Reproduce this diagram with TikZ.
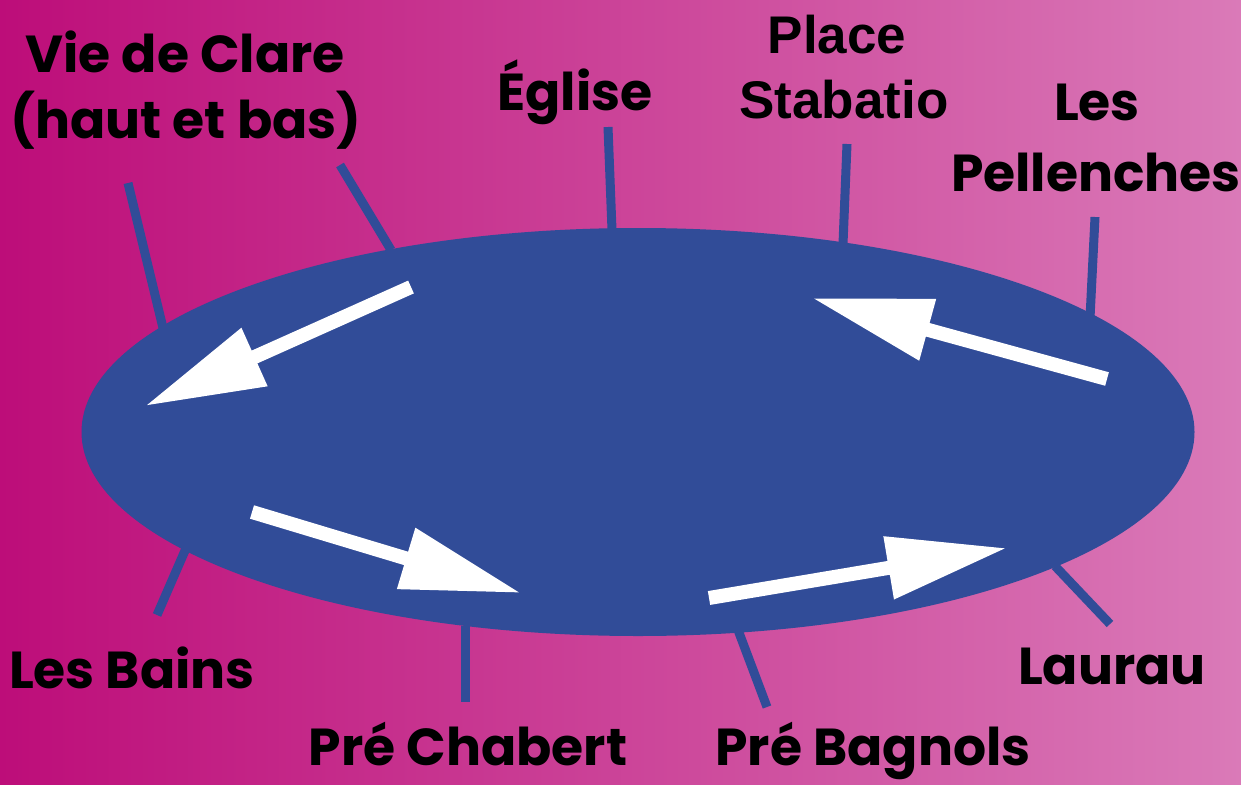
\documentclass[tikz,border=0pt]{standalone}
\usepackage{fontspec}
\setmainfont{Poppins}
\newfontfamily\arialf{Liberation Sans}
\usetikzlibrary{arrows.meta,shapes.geometric}
\definecolor{bgL}{RGB}{189,13,121}
\definecolor{bgM}{RGB}{198,38,138}
\definecolor{bgR}{RGB}{218,122,184}
\definecolor{loopblue}{RGB}{49,76,152}
\tikzset{
  lbl/.style={font=\fontsize{52}{60}\selectfont\bfseries, text=black, inner sep=0pt, anchor=base},
  albl/.style={font=\arialf\fontsize{53}{60}\selectfont\bfseries, text=black, inner sep=0pt, anchor=base},
  tick/.style={draw=loopblue, line width=9pt},
  flow/.style={draw=white, line width=14pt, -{Triangle[length=120pt,width=60pt]}},
}
\begin{document}
\begin{tikzpicture}[x=1pt,y=-1pt]
\path[use as bounding box] (0,0) rectangle (1241,784);
\shade[left color=bgL, middle color=bgM, right color=bgR] (0,0) rectangle (1241,784);
\node[ellipse, fill=loopblue, minimum width=1113pt, minimum height=408pt, inner sep=0pt] (loop) at (638,432) {};

% labels
\node[lbl] (vie1) at (185,72) {Vie de Clare};
\node[lbl] (vie2) at (186,138) {(haut et bas)};
\node[lbl] (eglise) at (575,110) {Église};
\node[albl] (place1) at (837,53) {Place};
\node[albl] (place2) at (844,118) {Stabatio};
\node[lbl] (pell1) at (1097,120) {Les};
\node[lbl] (pell2) at (1096,191) {Pellenches};
\node[lbl] (bains) at (132,688) {Les Bains};
\node[lbl] (chabert) at (468,765) {Pré Chabert};
\node[lbl] (bagnols) at (873,765) {Pré Bagnols};
\node[lbl] (laurau) at (1112,684) {Laurau};

% tick ends
\coordinate (v1a) at (128,183); \coordinate (v1b) at (163,328);
\coordinate (v2a) at (340,165); \coordinate (v2b) at (391,250);
\coordinate (ega) at (608,127); \coordinate (egb) at (612,230);
\coordinate (pla) at (847,144); \coordinate (plb) at (843,244);
\coordinate (pea) at (1095,217); \coordinate (peb) at (1090,318);
\coordinate (baa) at (187,546); \coordinate (bab) at (157,615);
\coordinate (cha) at (465,626); \coordinate (chb) at (465,702);
\coordinate (bga) at (738,630); \coordinate (bgb) at (767,707);
\coordinate (laa) at (1055,566); \coordinate (lab) at (1110,624);

\draw[tick] (v1a) -- (v1b);
\draw[tick] (v2a) -- (v2b);
\draw[tick] (ega) -- (egb);
\draw[tick] (pla) -- (plb);
\draw[tick] (pea) -- (peb);
\draw[tick] (baa) -- (bab);
\draw[tick] (cha) -- (chb);
\draw[tick] (bga) -- (bgb);
\draw[tick] (laa) -- (lab);

% arrows
\coordinate (a1s) at (411,287); \coordinate (a1e) at (145,406);
\coordinate (a2s) at (1107,379); \coordinate (a2e) at (812,298);
\coordinate (a3s) at (252,512); \coordinate (a3e) at (521,593);
\coordinate (a4s) at (709,598); \coordinate (a4e) at (1007,548);
\draw[flow] (a1s) -- (a1e);
\draw[flow] (a2s) -- (a2e);
\draw[flow] (a3s) -- (a3e);
\draw[flow] (a4s) -- (a4e);
\end{tikzpicture}
\end{document}
